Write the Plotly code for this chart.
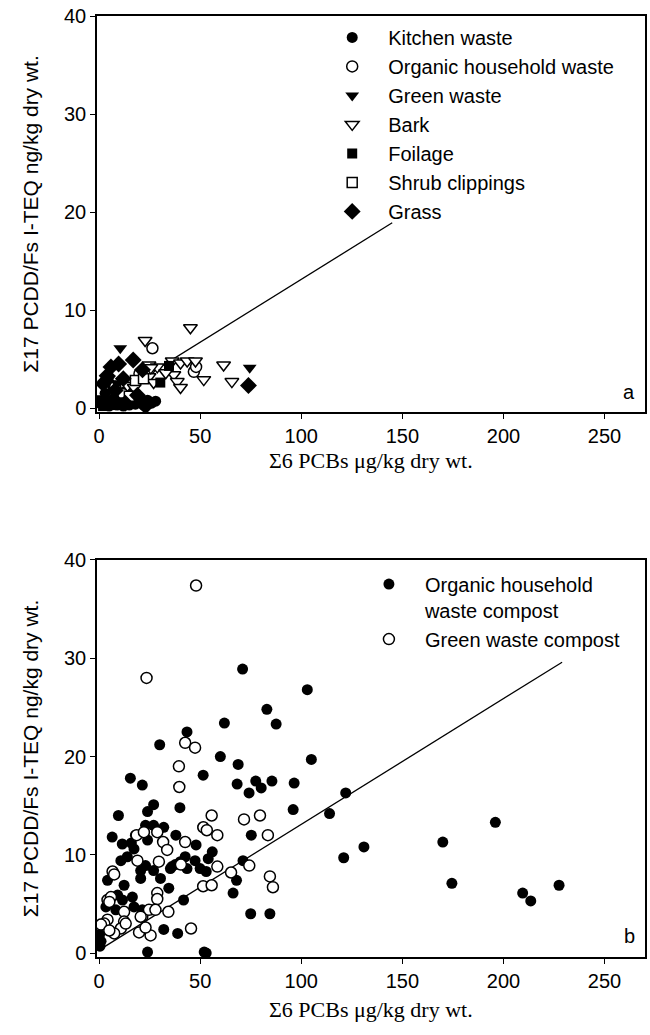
import plotly.graph_objects as go

# ---------------- Panel a data ----------------
kitchen_x = [2, 4, 5, 6, 7, 8, 9, 10, 11, 12, 13, 14, 15, 16, 18, 19, 20, 22, 24, 26, 28, 3, 7, 12, 5]
kitchen_y = [0.3, 0.5, 0.2, 0.8, 0.4, 1.2, 0.3, 0.6, 0.9, 0.2, 0.5, 1.0, 0.3, 0.7, 0.4, 1.1, 0.6, 0.3, 0.8, 0.5, 0.7, 1.5, 2.0, 1.6, 2.6]

organic_x = [26.4, 46.9, 48, 25, 8, 12, 20]
organic_y = [6.1, 3.7, 4.2, 4.0, 2.2, 1.4, 3.5]

green_x = [10.5, 74.5, 5, 9, 13, 16]
green_y = [6.1, 4.1, 3.0, 2.5, 0.8, 1.9]

bark_x = [45.2, 22.8, 24.7, 28.8, 36.2, 40.3, 43.6, 47.7, 61.6, 51.8, 65.7, 37, 38.7, 40.3, 14.1, 17.4, 24.7, 27, 25.6, 33]
bark_y = [8.2, 6.9, 4.4, 4.2, 4.8, 4.6, 4.8, 4.8, 4.4, 2.9, 2.7, 3.4, 2.7, 2.1, 2.3, 2.1, 3.2, 2.6, 4.1, 3.6]

foilage_x = [34.6, 30.3, 1, 3, 2, 6, 0.5]
foilage_y = [4.3, 2.6, 0.8, 0.6, 0.2, 0.3, 0.5]

shrub_x = [18, 22, 15]
shrub_y = [2.8, 3.0, 1.2]

grass_x = [16.9, 9.7, 5.9, 21.5, 73.9, 23, 2, 4, 8, 12, 19, 13]
grass_y = [4.9, 4.5, 4.2, 3.9, 2.3, 0.2, 2.5, 3.3, 1.8, 3.0, 1.3, 0.5]

line_a_x = [0, 145]
line_a_y = [0.3, 18.9]

# ---------------- Panel b data ----------------
ohw_x = [71, 103, 83, 87.6, 62, 43.5, 30, 60, 68.8, 105, 51.5, 15.5, 21.4, 68.3, 77.5, 74.2, 80.2, 85.5,
         96.5, 96, 114, 122, 27, 24, 9.6, 40, 131, 121, 170, 196, 174.5, 209.5, 213.5, 227.5, 84.5, 75,
         6.5, 11.5, 16, 18, 23, 27, 32, 24, 29, 38, 48, 51.3, 56, 54, 75.3, 10.8, 14, 17.3, 20.6, 23,
         20.6, 27, 30.4, 34.5, 4.2, 7.5, 12.4, 9.2, 11.6, 16.5, 17.3, 21.4, 26.3, 8.3, 3.4, 35.3, 40.2,
         43.5, 47.5, 50, 53, 42.6, 36, 37.7, 41.8, 66.3, 68, 71.2, 32, 38.9, 1, 0.5, 0.3, 24, 52, 53]
ohw_y = [28.9, 26.8, 24.8, 23.3, 23.4, 22.5, 21.2, 20.0, 19.2, 19.7, 18.1, 17.8, 17.1, 17.2, 17.5, 16.3, 16.8, 17.5,
         17.3, 14.6, 14.2, 16.3, 15.1, 14.4, 14.0, 14.8, 10.8, 9.7, 11.3, 13.3, 7.1, 6.1, 5.3, 6.9, 4.0, 4.0,
         11.8, 11.1, 11.2, 12.0, 13.0, 13.0, 12.8, 11.5, 12.3, 12.0, 11.0, 12.8, 10.3, 9.6, 12.0, 9.4, 9.8, 10.6, 8.4, 8.9,
         7.6, 8.4, 7.6, 6.6, 7.4, 8.1, 6.9, 5.9, 5.4, 5.7, 4.7, 4.4, 4.4, 4.4, 4.7, 8.6, 9.3,
         8.6, 9.4, 8.6, 8.3, 9.8, 8.8, 9.0, 5.4, 6.1, 7.4, 9.4, 2.4, 2.0, 1.2, 0.7, 1.9, 0.1, 0.1, 0.0]

gwc_x = [48, 23.5, 42.6, 47.5, 39.5, 39.7, 55.7, 71.7, 79.6, 83.5, 51.6, 53.3, 58.5, 18.6, 22.2, 28.8, 31.7,
         33.7, 42.6, 19, 29.6, 40.5, 58.5, 65.3, 74.3, 84.5, 86, 6.7, 7.5, 28.8, 28.8, 51.5, 55.7, 4.2, 5.9,
         5.1, 12.4, 21.4, 24.7, 27.9, 34.3, 4.2, 2.6, 1, 12.4, 10.8, 7.5, 19.8, 25.5, 23, 45.5, 5.1, 20.6, 13.2]
gwc_y = [37.4, 28.0, 21.4, 20.9, 19.0, 16.9, 14.0, 13.6, 14.0, 12.0, 12.8, 12.5, 12.0, 12.0, 12.3, 12.3, 11.3,
         10.5, 11.3, 9.4, 9.3, 9.0, 8.8, 8.2, 8.9, 7.8, 6.7, 8.3, 8.0, 6.1, 5.5, 6.8, 6.9, 5.4, 5.7,
         5.2, 4.2, 3.7, 4.4, 4.4, 4.2, 3.4, 3.0, 2.9, 3.2, 2.5, 2.0, 2.1, 1.8, 2.6, 2.5, 2.3, 3.7, 3.0]

line_b_x = [0, 229]
line_b_y = [0.3, 29.6]

x_ticks = [0, 50, 100, 150, 200, 250]
y_ticks = [0, 10, 20, 30, 40]

x_title = "Σ6 PCBs μg/kg dry wt."
y_title = "Σ17 PCDD/Fs I-TEQ ng/kg dry wt."

fig = go.Figure()

def filled(symbol, size):
    return dict(symbol=symbol, size=size, color="black", line=dict(width=0))

def hollow(symbol, size):
    return dict(symbol=symbol, size=size, color="white", line=dict(width=1.5, color="black"))

# regression lines
fig.add_trace(go.Scatter(x=line_a_x, y=line_a_y, mode="lines", line=dict(color="black", width=1.3),
                         showlegend=False, xaxis="x", yaxis="y"))
fig.add_trace(go.Scatter(x=line_b_x, y=line_b_y, mode="lines", line=dict(color="black", width=1.3),
                         showlegend=False, xaxis="x2", yaxis="y2"))

top_series = [
    ("Kitchen waste", kitchen_x, kitchen_y, filled("circle", 11)),
    ("Organic household waste", organic_x, organic_y, hollow("circle", 11)),
    ("Green waste", green_x, green_y, filled("triangle-down", 12)),
    ("Bark", bark_x, bark_y, hollow("triangle-down", 12)),
    ("Foilage", foilage_x, foilage_y, filled("square", 10)),
    ("Shrub clippings", shrub_x, shrub_y, hollow("square", 10)),
    ("Grass", grass_x, grass_y, filled("diamond", 13)),
]
for name, xs, ys, mk in top_series:
    fig.add_trace(go.Scatter(x=xs, y=ys, mode="markers", name=name, marker=mk,
                             xaxis="x", yaxis="y", legend="legend"))

fig.add_trace(go.Scatter(x=ohw_x, y=ohw_y, mode="markers", name="Organic household<br>waste compost",
                         marker=filled("circle", 11), xaxis="x2", yaxis="y2", legend="legend2"))
fig.add_trace(go.Scatter(x=gwc_x, y=gwc_y, mode="markers", name="Green waste compost",
                         marker=hollow("circle", 11), xaxis="x2", yaxis="y2", legend="legend2"))

tickfont = dict(family="Liberation Sans, Arial, sans-serif", size=20, color="black")
xtitle_font = dict(family="Liberation Serif, Times New Roman, serif", size=22, color="black")

def xax(domain_anchor):
    return dict(range=[-1, 270], tickvals=x_ticks, ticks="outside", ticklen=5, tickwidth=1.2,
                tickcolor="black", showline=True, linecolor="black", linewidth=1.5, mirror=True,
                showgrid=False, zeroline=False, tickfont=tickfont, anchor=domain_anchor)

def yax(domain, anchor):
    return dict(range=[-0.4, 40], tickvals=y_ticks, ticks="outside", ticklen=5, tickwidth=1.2,
                tickcolor="black", showline=True, linecolor="black", linewidth=1.5, mirror=True,
                showgrid=False, zeroline=False, tickfont=tickfont, domain=domain, anchor=anchor,
                title=dict(text=y_title, font=dict(family="Liberation Sans, Arial, sans-serif",
                                                   size=21, color="black"), standoff=20))

legend_font = dict(family="Liberation Sans, Arial, sans-serif", size=20, color="black")

fig.update_layout(
    width=650, height=1035,
    margin=dict(l=97, r=3, t=16, b=78),
    plot_bgcolor="white", paper_bgcolor="white",
    xaxis=xax("y"),
    yaxis=yax([0.5792, 1.0], "x"),
    xaxis2=xax("y2"),
    yaxis2=yax([0.0, 0.4219], "x2"),
    legend=dict(x=0.40, y=0.998, xanchor="left", yanchor="top", font=legend_font,
                bgcolor="rgba(0,0,0,0)", itemwidth=62, tracegroupgap=0, itemclick=False),
    legend2=dict(x=0.467, y=0.417, xanchor="left", yanchor="top", font=legend_font,
                 bgcolor="rgba(0,0,0,0)", itemwidth=62, valign="top", itemclick=False),
    showlegend=True,
    annotations=[
        dict(text="a", x=0.985, y=0.587, xref="paper", yref="paper", showarrow=False,
             xanchor="right", yanchor="bottom", font=legend_font),
        dict(text="b", x=0.985, y=0.009, xref="paper", yref="paper", showarrow=False,
             xanchor="right", yanchor="bottom", font=legend_font),
        dict(text=x_title, x=0.5, y=0.5271, xref="paper", yref="paper", showarrow=False,
             xanchor="center", yanchor="middle", font=xtitle_font),
        dict(text=x_title, x=0.5, y=-0.0563, xref="paper", yref="paper", showarrow=False,
             xanchor="center", yanchor="middle", font=xtitle_font),
    ],
)

fig.write_html("out.html")
